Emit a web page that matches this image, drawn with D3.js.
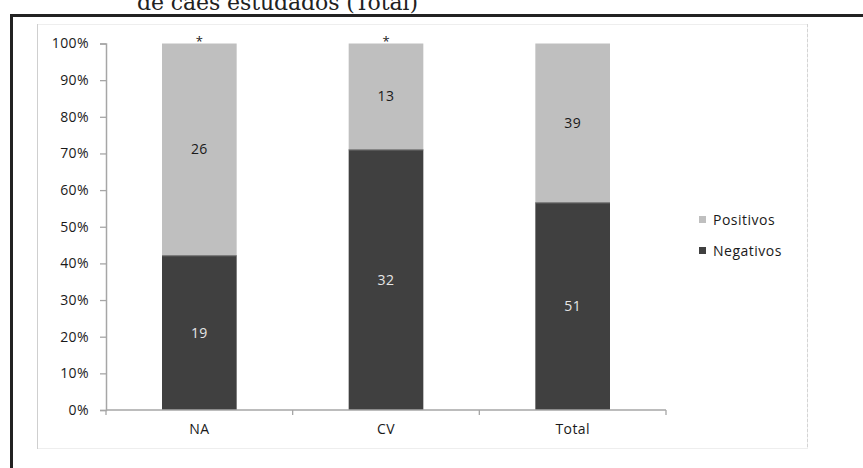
<!DOCTYPE html>
<html>
<head>
<meta charset="utf-8">
<script src="https://cdn.jsdelivr.net/npm/d3@7"></script>
<style>
  body { margin: 0; background: #fff; }
  svg { display: block; }
  text { font-family: "Open Sans", sans-serif; }
</style>
</head>
<body>
<div id="chart"></div>
<script>
// chart data
const categories = ["NA", "CV", "Total"];
const negativos = [19, 32, 51];
const positivos = [26, 13, 39];
const marks = ["*", "*", ""];
const yTickValues = [0, 10, 20, 30, 40, 50, 60, 70, 80, 90, 100];
const seriesNames = ["Positivos", "Negativos"];
const seriesColors = ["#bfbfbf", "#404040"];

const width = 863, height = 468;
const fontSize = "14px";
const spacing = "0.4px";

const svg = d3.select("#chart")
    .append("svg")
    .attr("width", width)
    .attr("height", height);

// cropped caption text at the top (from the page above the figure)
svg.append("text")
    .attr("x", 137)
    .attr("y", 9.5)
    .attr("textLength", 281)
    .style("font-family", "'DejaVu Serif', 'Liberation Serif', serif")
    .style("font-size", "22px")
    .style("fill", "#222")
    .text("de cães estudados (Total)");

// outer black frame
svg.append("path")
    .attr("d", `M11.5,${height} L11.5,15.5 L${width},15.5`)
    .attr("fill", "none")
    .attr("stroke", "#222")
    .attr("stroke-width", 3);

// chart area frame
svg.append("rect")
    .attr("x", 37.5).attr("y", 24.5)
    .attr("width", 770).attr("height", 424)
    .attr("fill", "none")
    .attr("stroke", "#eeeeee");
svg.append("line")
    .attr("x1", 37.5).attr("x2", 37.5).attr("y1", 24).attr("y2", 449)
    .attr("stroke", "#cfcfcf");
svg.append("line")
    .attr("x1", 807.5).attr("x2", 807.5).attr("y1", 24).attr("y2", 449)
    .attr("stroke", "#d4d4d4")
    .attr("stroke-dasharray", "3,2");

// scales
const x = d3.scaleBand()
    .domain(categories)
    .range([106, 666])
    .paddingInner(0.6)
    .paddingOuter(0.3);

const y = d3.scaleLinear()
    .domain([0, 100])
    .range([410, 43.5]);

const rows = categories.map((c, i) => {
    const total = negativos[i] + positivos[i];
    return {
        cat: c,
        neg: negativos[i],
        pos: positivos[i],
        negPct: negativos[i] / total * 100,
        mark: marks[i]
    };
});

// bars
const g = svg.append("g");

g.selectAll(".neg")
    .data(rows)
    .join("rect")
    .attr("x", d => x(d.cat))
    .attr("width", x.bandwidth())
    .attr("y", d => y(d.negPct))
    .attr("height", d => y(0) - y(d.negPct))
    .attr("fill", seriesColors[1]);

g.selectAll(".pos")
    .data(rows)
    .join("rect")
    .attr("x", d => x(d.cat))
    .attr("width", x.bandwidth())
    .attr("y", y(100))
    .attr("height", d => y(d.negPct) - y(100))
    .attr("fill", seriesColors[0]);

// segment boundary line
g.selectAll(".sep")
    .data(rows)
    .join("line")
    .attr("x1", d => x(d.cat))
    .attr("x2", d => x(d.cat) + x.bandwidth())
    .attr("y1", d => y(d.negPct) + 0.5)
    .attr("y2", d => y(d.negPct) + 0.5)
    .attr("stroke", "#7a7a7a");

// value labels
g.selectAll(".lab-neg")
    .data(rows)
    .join("text")
    .attr("x", d => x(d.cat) + x.bandwidth() / 2)
    .attr("y", d => (y(0) + y(d.negPct)) / 2)
    .attr("dy", "0.35em")
    .attr("text-anchor", "middle")
    .style("font-size", fontSize)
    .style("letter-spacing", spacing)
    .style("fill", "#e6e6e6")
    .text(d => d.neg);

g.selectAll(".lab-pos")
    .data(rows)
    .join("text")
    .attr("x", d => x(d.cat) + x.bandwidth() / 2)
    .attr("y", d => (y(100) + y(d.negPct)) / 2)
    .attr("dy", "0.35em")
    .attr("text-anchor", "middle")
    .style("font-size", fontSize)
    .style("letter-spacing", spacing)
    .style("fill", "#1a1a1a")
    .text(d => d.pos);

// asterisks
g.selectAll(".mark")
    .data(rows)
    .join("text")
    .attr("x", d => x(d.cat) + x.bandwidth() / 2)
    .attr("y", y(100) + 2)
    .attr("text-anchor", "middle")
    .style("font-size", "13px")
    .style("fill", "#222")
    .text(d => d.mark);

// y axis
const yAxis = svg.append("g")
    .attr("transform", "translate(106,0)")
    .call(d3.axisLeft(y)
        .tickValues(yTickValues)
        .tickSize(6)
        .tickPadding(11)
        .tickFormat(d => d + "%"));
yAxis.select(".domain").attr("stroke", "#a6a6a6").attr("stroke-width", 1.5);
yAxis.selectAll(".tick line").attr("stroke", "#a6a6a6").attr("stroke-width", 1.3);
yAxis.selectAll(".tick text")
    .style("font-family", "'Open Sans', sans-serif")
    .style("font-size", fontSize)
    .style("letter-spacing", spacing)
    .style("fill", "#1a1a1a");

// x axis
const xAxis = svg.append("g")
    .attr("transform", `translate(0,${y(0)})`)
    .call(d3.axisBottom(x).tickSize(0).tickPadding(14));
xAxis.select(".domain").remove();
xAxis.append("line")
    .attr("x1", x.range()[0]).attr("x2", x.range()[1])
    .attr("stroke", "#a6a6a6").attr("stroke-width", 1.5);
xAxis.selectAll(".bound")
    .data(d3.range(categories.length + 1))
    .join("line")
    .attr("x1", i => x.range()[0] + i * x.step())
    .attr("x2", i => x.range()[0] + i * x.step())
    .attr("y1", 0).attr("y2", 5)
    .attr("stroke", "#a6a6a6").attr("stroke-width", 1.3);
xAxis.selectAll(".tick text")
    .style("font-family", "'Open Sans', sans-serif")
    .style("font-size", fontSize)
    .style("letter-spacing", spacing)
    .style("fill", "#1a1a1a");

// legend
const legend = svg.append("g").attr("transform", "translate(699,216)");
const li = legend.selectAll("g")
    .data(seriesNames)
    .join("g")
    .attr("transform", (d, i) => `translate(0,${i * 31})`);
li.append("rect")
    .attr("width", 7).attr("height", 7)
    .attr("fill", (d, i) => seriesColors[i]);
li.append("text")
    .attr("x", 14)
    .attr("y", 4)
    .attr("dy", "0.35em")
    .style("font-size", fontSize)
    .style("letter-spacing", "0.5px")
    .style("fill", "#1a1a1a")
    .text(d => d);
</script>
</body>
</html>
